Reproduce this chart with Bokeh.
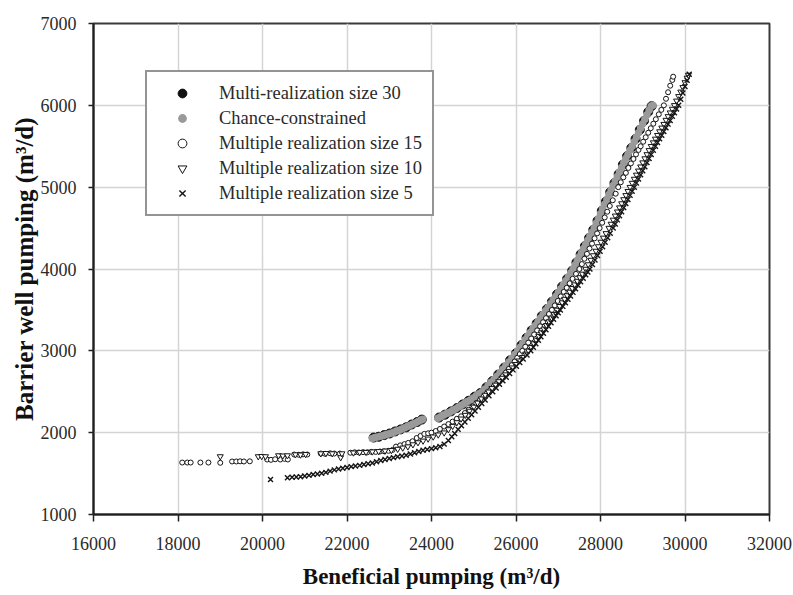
from bokeh.plotting import figure
from bokeh.models import Range1d, FixedTicker, Legend, LegendItem
from bokeh.embed import file_html
from bokeh.resources import INLINE

# ---------------- data ----------------
x_ticks = [16000, 18000, 20000, 22000, 24000, 26000, 28000, 30000, 32000]
y_ticks = [1000, 2000, 3000, 4000, 5000, 6000, 7000]

size30_x = [22630, 22750, 22880, 23010, 23140, 23270, 23400, 23530, 23660, 23770,
            24180, 24320, 24460, 24600, 24740, 24880, 25020, 25160, 25300, 25440,
            25580, 25720, 25860, 26000, 26130, 26250, 26370, 26490, 26610, 26730,
            26850, 26970, 27090, 27210, 27330, 27430, 27530, 27630, 27730, 27830,
            27930, 28030, 28130, 28230, 28330, 28430, 28530, 28630, 28730, 28830,
            28930, 29030, 29130, 29210]
size30_y = [1940, 1950, 1970, 1990, 2015, 2040, 2065, 2100, 2130, 2160,
            2185, 2220, 2260, 2300, 2345, 2390, 2440, 2485, 2555, 2630,
            2710, 2795, 2885, 2970, 3070, 3160, 3250, 3335, 3425, 3510,
            3600, 3690, 3785, 3880, 3980, 4080, 4180, 4280, 4380, 4480,
            4590, 4710, 4825, 4940, 5050, 5160, 5275, 5380, 5480, 5590,
            5700, 5810, 5920, 5990]

chance_x = [22600, 22660, 22720, 22790, 22850, 22910, 22980, 23040, 23110, 23170,
            23240, 23300, 23370, 23430, 23500, 23560, 23630, 23690, 23750, 23790,
            24150, 24220, 24290, 24360, 24430, 24500, 24570, 24640, 24710, 24780,
            24850, 24920, 24990, 25060, 25130, 25200, 25270, 25340, 25410, 25480,
            25550, 25620, 25690, 25760, 25830, 25900, 25970, 26040, 26100, 26160,
            26220, 26280, 26340, 26400, 26460, 26520, 26580, 26640, 26700, 26760,
            26820, 26880, 26940, 27000, 27060, 27120, 27180, 27240, 27300, 27350,
            27400, 27450, 27500, 27550, 27600, 27650, 27700, 27750, 27800, 27850,
            27900, 27950, 28000, 28050, 28100, 28150, 28200, 28250, 28300, 28350,
            28400, 28450, 28500, 28550, 28600, 28650, 28700, 28750, 28800, 28850,
            28900, 28950, 29000, 29050, 29100, 29150, 29200, 29240]
chance_y = [1930, 1940, 1948, 1955, 1962, 1975, 1985, 1992, 2005, 2020,
            2030, 2045, 2060, 2075, 2090, 2105, 2120, 2140, 2155, 2165,
            2175, 2195, 2215, 2235, 2250, 2270, 2290, 2315, 2335, 2355,
            2380, 2400, 2425, 2450, 2475, 2500, 2535, 2575, 2615, 2650,
            2690, 2730, 2775, 2820, 2865, 2910, 2955, 3000, 3045, 3090,
            3135, 3180, 3225, 3270, 3310, 3355, 3400, 3445, 3490, 3530,
            3575, 3620, 3665, 3710, 3760, 3805, 3855, 3905, 3955, 4000,
            4050, 4100, 4150, 4200, 4250, 4300, 4350, 4400, 4450, 4500,
            4560, 4615, 4675, 4730, 4790, 4850, 4910, 4965, 5020, 5075,
            5130, 5185, 5240, 5295, 5350, 5400, 5450, 5500, 5555, 5610,
            5665, 5720, 5775, 5830, 5885, 5940, 5990, 6000]

size15_x = [18100, 18220, 18300, 18530, 18720, 19000, 19280, 19380, 19470, 19560,
            19700, 20110, 20200, 20300, 20420, 20520, 20600, 20750, 20860, 20960,
            21060, 21380, 21480, 21600, 21700, 21830, 22080, 22180, 22280, 22380,
            22480, 22580, 22680, 22780, 22880, 22980, 23080, 23160, 23260, 23360,
            23450, 23550, 23650, 23740, 23830, 23920, 24000, 24100, 24200, 24300,
            24400, 24500, 24600, 24700, 24790, 24880, 24970, 25060, 25150, 25230,
            25310, 25390, 25470, 25550, 25620, 25690, 25760, 25830, 25900, 25970,
            26030, 26090, 26150, 26220, 26290, 26360, 26430, 26500, 26570, 26640,
            26710, 26780, 26850, 26920, 26990, 27060, 27130, 27200, 27270, 27340,
            27420, 27500, 27560, 27620, 27680, 27740, 27800, 27860, 27920, 27980,
            28040, 28100, 28160, 28220, 28290, 28360, 28420, 28480, 28540, 28600,
            28660, 28720, 28780, 28840, 28900, 28950, 29010, 29070, 29130, 29190,
            29250, 29310, 29380, 29440, 29500, 29550, 29600, 29650, 29700, 29720]
size15_y = [1635, 1635, 1635, 1635, 1635, 1632, 1648, 1648, 1650, 1648,
            1650, 1672, 1668, 1675, 1672, 1680, 1672, 1733, 1730, 1735,
            1733, 1745, 1742, 1748, 1745, 1745, 1755, 1760, 1758, 1762,
            1760, 1765, 1765, 1770, 1772, 1778, 1790, 1830, 1845, 1860,
            1875, 1895, 1935, 1960, 1985, 1992, 2000, 2020, 2045, 2075,
            2105, 2135, 2170, 2200, 2240, 2280, 2320, 2360, 2400, 2440,
            2480, 2520, 2560, 2600, 2645, 2690, 2735, 2780, 2825, 2870,
            2915, 2960, 3000, 3050, 3100, 3150, 3200, 3250, 3300, 3350,
            3400, 3450, 3500, 3555, 3610, 3665, 3720, 3770, 3825, 3880,
            3940, 4000, 4060, 4125, 4185, 4250, 4310, 4375, 4435, 4500,
            4565, 4630, 4700, 4770, 4840, 4920, 5000, 5060, 5120, 5175,
            5235, 5290, 5345, 5400, 5455, 5500, 5555, 5610, 5665, 5720,
            5775, 5830, 5890, 5945, 6000, 6080, 6160, 6240, 6310, 6350]

size10_x = [19000, 19900, 19980, 20070, 20380, 20480, 20590, 20780, 20900, 21020,
            21380, 21500, 21650, 21850, 21880, 22150, 22300, 22450, 22600, 22750,
            22900, 23050, 23200, 23320, 23440, 23560, 23680, 23800, 23920, 24040,
            24160, 24300, 24400, 24500, 24600, 24700, 24800, 24900, 25000, 25090,
            25180, 25270, 25350, 25430, 25510, 25590, 25670, 25750, 25830, 25910,
            25990, 26070, 26150, 26230, 26300, 26360, 26420, 26480, 26540, 26600,
            26660, 26720, 26780, 26840, 26900, 26970, 27030, 27090, 27150, 27210,
            27270, 27330, 27390, 27450, 27510, 27570, 27650, 27710, 27770, 27830,
            27890, 27950, 28010, 28070, 28130, 28200, 28250, 28300, 28350, 28400,
            28450, 28500, 28550, 28600, 28650, 28700, 28750, 28800, 28850, 28900,
            28950, 29000, 29050, 29100, 29150, 29200, 29250, 29300, 29350, 29400,
            29450, 29500, 29550, 29600, 29650, 29700, 29750, 29800, 29850, 29900,
            29950, 30000, 30050, 30080]
size10_y = [1709, 1709, 1712, 1709, 1721, 1718, 1721, 1733, 1730, 1736,
            1745, 1748, 1745, 1697, 1745, 1755, 1760, 1762, 1768, 1772,
            1778, 1785, 1800, 1815, 1830, 1855, 1880, 1900, 1925, 1950,
            1975, 2000, 2040, 2080, 2125, 2170, 2215, 2265, 2315, 2365,
            2415, 2460, 2500, 2542, 2584, 2626, 2668, 2710, 2752, 2794,
            2836, 2879, 2921, 2963, 3000, 3045, 3090, 3134, 3180, 3224,
            3269, 3313, 3358, 3403, 3448, 3500, 3545, 3590, 3633, 3677,
            3720, 3765, 3810, 3853, 3897, 3940, 4000, 4055, 4110, 4165,
            4220, 4275, 4330, 4380, 4435, 4500, 4550, 4600, 4650, 4700,
            4750, 4800, 4850, 4900, 4950, 5000, 5050, 5100, 5150, 5200,
            5250, 5300, 5350, 5400, 5450, 5500, 5545, 5590, 5635, 5680,
            5725, 5770, 5820, 5865, 5910, 5955, 6000, 6055, 6110, 6165,
            6220, 6280, 6335, 6370]

size5_x = [20190, 20590, 20700, 20800, 20900, 21000, 21100, 21200, 21300, 21400,
           21500, 21600, 21700, 21800, 21900, 22000, 22100, 22200, 22300, 22400,
           22500, 22600, 22700, 22800, 22900, 23000, 23100, 23200, 23300, 23400,
           23500, 23600, 23700, 23800, 23900, 24000, 24100, 24200, 24300, 24400,
           24480, 24550, 24630, 24710, 24790, 24870, 24950, 25030, 25110, 25190,
           25270, 25360, 25450, 25530, 25610, 25690, 25770, 25850, 25930, 26010,
           26090, 26170, 26260, 26350, 26410, 26470, 26530, 26590, 26650, 26710,
           26770, 26830, 26890, 26950, 27000, 27050, 27110, 27170, 27230, 27290,
           27350, 27410, 27470, 27530, 27590, 27650, 27700, 27750, 27810, 27870,
           27930, 27990, 28050, 28110, 28170, 28230, 28300, 28350, 28400, 28450,
           28500, 28550, 28600, 28650, 28700, 28750, 28800, 28850, 28900, 28950,
           29000, 29050, 29100, 29150, 29200, 29250, 29300, 29350, 29400, 29450,
           29500, 29550, 29600, 29650, 29700, 29750, 29800, 29850, 29900, 29950,
           30000, 30050, 30100]
size5_y = [1428, 1450, 1455, 1458, 1462, 1470, 1478, 1488, 1495, 1505,
           1515, 1530, 1545, 1555, 1565, 1575, 1585, 1592, 1600, 1610,
           1620, 1630, 1645, 1660, 1672, 1684, 1695, 1705, 1715, 1725,
           1740, 1755, 1770, 1785, 1795, 1805, 1815, 1830, 1860, 1905,
           1950, 1990, 2040, 2085, 2130, 2175, 2220, 2265, 2311, 2356,
           2400, 2450, 2500, 2545, 2590, 2633, 2678, 2722, 2767, 2811,
           2856, 2900, 2950, 3000, 3043, 3086, 3129, 3171, 3214, 3257,
           3300, 3343, 3386, 3429, 3464, 3500, 3543, 3586, 3629, 3671,
           3714, 3757, 3800, 3843, 3886, 3929, 3964, 4000, 4055, 4110,
           4164, 4218, 4273, 4327, 4382, 4436, 4500, 4550, 4600, 4650,
           4700, 4750, 4800, 4850, 4900, 4950, 5000, 5050, 5100, 5150,
           5200, 5250, 5300, 5350, 5400, 5450, 5500, 5545, 5590, 5635,
           5680, 5725, 5770, 5815, 5865, 5910, 5955, 6000, 6075, 6150,
           6230, 6305, 6380]

labels = ["Multi-realization size 30", "Chance-constrained",
          "Multiple realization size 15", "Multiple realization size 10",
          "Multiple realization size 5"]

FONT = "Liberation Serif"

p = figure(width=793, height=595, frame_width=676, frame_height=491,
           min_border_left=93, min_border_right=24, min_border_top=23, min_border_bottom=81,
           x_range=Range1d(16000, 32000), y_range=Range1d(1000, 7000),
           output_backend="svg", toolbar_location=None,
           background_fill_color="white", border_fill_color="white")

p.outline_line_color = "#3a3a3a"
p.outline_line_width = 2

p.xgrid.grid_line_color = "#d4d4d4"
p.ygrid.grid_line_color = "#d4d4d4"
p.xgrid.grid_line_width = 1.5
p.ygrid.grid_line_width = 1.5

p.xaxis.ticker = FixedTicker(ticks=x_ticks)
p.yaxis.ticker = FixedTicker(ticks=y_ticks)
for ax in (p.xaxis[0], p.yaxis[0]):
    ax.axis_line_color = "#202020"
    ax.axis_line_width = 2
    ax.major_tick_line_color = "#202020"
    ax.major_tick_line_width = 1.5
    ax.major_tick_in = 0
    ax.minor_tick_line_color = None
    ax.major_label_text_font = FONT
    ax.major_label_text_font_size = "18px"
    ax.major_label_text_color = "#2a2a2a"
    ax.axis_label_text_font = FONT
    ax.axis_label_text_font_style = "bold"
    ax.axis_label_text_color = "#111111"
p.xaxis.axis_label_text_font_size = "23px"
p.yaxis.axis_label_text_font_size = "25px"
p.xaxis.major_tick_out = 7
p.yaxis.major_tick_out = 5
p.xaxis.major_label_standoff = 15
p.yaxis.major_label_standoff = 12
p.xaxis.axis_label = "Beneficial pumping (m³/d)"
p.yaxis.axis_label = "Barrier well pumping (m³/d)"
p.xaxis.axis_label_standoff = 11
p.yaxis.axis_label_standoff = 0

r30 = p.scatter(size30_x, size30_y, marker="circle", size=9,
                fill_color="#111111", line_color="#111111", line_width=1)
rcc = p.scatter(chance_x, chance_y, marker="circle", size=7.5,
                fill_color="#9a9a9a", line_color=None)
r15 = p.scatter(size15_x, size15_y, marker="circle", size=5,
                fill_color="white", line_color="#151515", line_width=1)
r10 = p.scatter(size10_x, size10_y, marker="inverted_triangle", size=6,
                fill_color="white", line_color="#151515", line_width=1)
r5 = p.scatter(size5_x, size5_y, marker="x", size=7,
               line_color="#151515", line_width=1.4)

legend = Legend(items=[LegendItem(label=l, renderers=[r]) for l, r in
                       zip(labels, [r30, rcc, r15, r10, r5])],
                location=(52, 298), orientation="vertical",
                padding=10, spacing=3, margin=0,
                glyph_width=50, glyph_height=22, label_height=22,
                label_standoff=12,
                label_text_font=FONT, label_text_font_size="18.5px",
                label_text_color="#2a2a2a",
                border_line_color="#2a2a2a", border_line_width=2,
                background_fill_color="white", background_fill_alpha=1)
p.add_layout(legend)

open("out.html", "w").write(file_html(p, INLINE))
